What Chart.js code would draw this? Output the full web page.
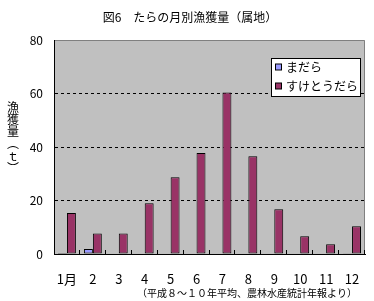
<!DOCTYPE html>
<html lang="ja">
<head>
<meta charset="utf-8">
<script src="https://cdn.jsdelivr.net/npm/chart.js@4.4.1/dist/chart.umd.min.js"></script>
<style>
  html, body { margin: 0; padding: 0; background: #fff; }
  #wrap { width: 374px; height: 301px; }
</style>
</head>
<body>
<div id="wrap"><canvas id="chart" width="374" height="301"></canvas></div>
<script>
const months = ["1月", "2", "3", "4", "5", "6", "7", "8", "9", "10", "11", "12"];
const madara = [0.4, 1.9, 0, 0, 0, 0, 0, 0, 0, 0, 0, 0.3];
const suketoudara = [15.3, 7.7, 7.7, 19, 28.7, 37.8, 60.4, 36.5, 16.7, 6.6, 3.6, 10.4];
const yTicks = [0, 20, 40, 60, 80];

const titleText = "図6　たらの月別漁獲量（属地）";
const yTitleChars = ["漁", "獲", "量", "︵", "ｔ", "︶"];
const noteText = "（平成８～１０年平均、農林水産統計年報より）";

const FONT = "'Noto Sans CJK JP', 'Noto Sans', sans-serif";

// plot background + gray top/right frame
const plotFrame = {
  id: "plotFrame",
  beforeDraw(chart) {
    const { ctx, chartArea: a } = chart;
    ctx.save();
    ctx.fillStyle = "#C0C0C0";
    ctx.fillRect(a.left, a.top, a.right - a.left, a.bottom - a.top);
    ctx.strokeStyle = "#808080";
    ctx.lineWidth = 1;
    ctx.beginPath();
    ctx.moveTo(a.left, a.top + 0.5);
    ctx.lineTo(a.right - 0.5, a.top + 0.5);
    ctx.lineTo(a.right - 0.5, a.bottom);
    ctx.stroke();
    ctx.restore();
  },
  // short inward tick marks between categories
  afterDatasetsDraw(chart) {
    const { ctx } = chart;
    const x = chart.scales.x;
    const n = x.ticks.length;
    const step = (x.right - x.left) / n;
    ctx.save();
    ctx.strokeStyle = "#000";
    ctx.lineWidth = 1;
    ctx.beginPath();
    for (let i = 1; i <= n; i++) {
      const px = Math.round(x.left + i * step) - 0.5;
      ctx.moveTo(px, x.top);
      ctx.lineTo(px, x.top - 4);
    }
    ctx.stroke();
    ctx.restore();
  },
};

// title, vertical axis title, footnote and boxed legend
const textBits = {
  id: "textBits",
  afterDraw(chart) {
    const { ctx } = chart;
    ctx.save();
    ctx.fillStyle = "#000";
    ctx.textAlign = "center";
    ctx.textBaseline = "middle";

    ctx.font = "12px " + FONT;
    ctx.fillText(titleText, 190, 17);

    yTitleChars.forEach((ch, i) => {
      ctx.fillText(ch, 13, 107 + i * 12.3);
    });

    ctx.font = "10px " + FONT;
    ctx.textAlign = "right";
    ctx.fillText(noteText, 357, 293);

    // legend
    const box = { x: 271.5, y: 58.5, w: 89, h: 38 };
    ctx.fillStyle = "#fff";
    ctx.fillRect(box.x, box.y, box.w, box.h);
    ctx.strokeStyle = "#000";
    ctx.lineWidth = 1;
    ctx.strokeRect(box.x, box.y, box.w, box.h);
    ctx.font = "12px " + FONT;
    ctx.textAlign = "left";
    chart.data.datasets.forEach((ds, i) => {
      const cy = 67 + i * 19;
      ctx.fillStyle = ds.backgroundColor;
      ctx.fillRect(275.5, cy - 3, 6, 6);
      ctx.strokeRect(275.5, cy - 3, 6, 6);
      ctx.fillStyle = "#000";
      ctx.fillText(ds.label, 286, cy);
    });
    ctx.restore();
  },
};

const ctx = document.getElementById("chart").getContext("2d");
new Chart(ctx, {
  type: "bar",
  data: {
    labels: months,
    datasets: [
      {
        label: "まだら",
        data: madara,
        backgroundColor: "#9999FF",
        borderColor: "#000",
        borderWidth: 1,
        borderSkipped: false,
      },
      {
        label: "すけとうだら",
        data: suketoudara,
        backgroundColor: "#993366",
        borderColor: "#000",
        borderWidth: 1,
        borderSkipped: false,
      },
    ],
  },
  options: {
    responsive: false,
    animation: false,
    layout: { padding: { top: 40, right: 9, left: 0, bottom: 0 } },
    datasets: {
      bar: { categoryPercentage: 0.69, barPercentage: 1 },
    },
    plugins: {
      legend: { display: false },
      title: { display: false },
      tooltip: { enabled: false },
    },
    scales: {
      x: {
        grid: { display: false },
        border: { color: "#000", width: 1 },
        ticks: {
          color: "#000",
          font: { family: FONT, size: 13 },
          padding: 9,
          maxRotation: 0,
          autoSkip: false,
        },
        afterFit(scale) {
          scale.height = 47;
        },
      },
      y: {
        min: 0,
        max: 80,
        afterBuildTicks(scale) {
          scale.ticks = yTicks.map((v) => ({ value: v }));
        },
        grid: {
          drawTicks: false,
          color: (c) =>
            c.tick && (c.tick.value === 0 || c.tick.value === 80)
              ? "rgba(0,0,0,0)"
              : "#000",
        },
        border: { color: "#000", width: 1, dash: [3, 3] },
        ticks: {
          color: "#000",
          font: { family: FONT, size: 12 },
          padding: 11,
        },
        afterFit(scale) {
          scale.width = 54;
        },
      },
    },
  },
  plugins: [plotFrame, textBits],
});
</script>
</body>
</html>
